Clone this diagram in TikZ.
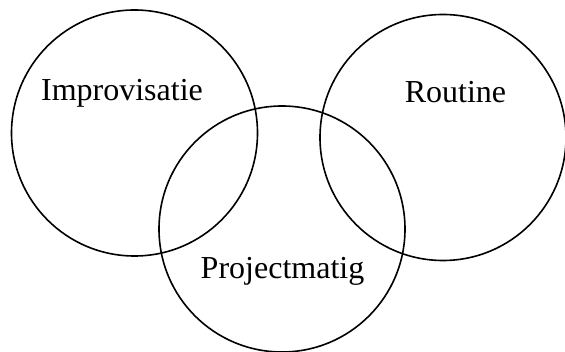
\documentclass[tikz,border=0pt]{standalone}
\usepackage{fontspec}
\setmainfont{Liberation Serif}
\begin{document}
\begin{tikzpicture}[x=1pt,y=-1pt,
  ring/.style={draw=black,line width=1.6pt,circle,minimum size=246pt,inner sep=0pt},
  label/.style={anchor=base,font=\fontsize{32}{36}\selectfont,inner sep=0pt}]
  \useasboundingbox (0,0) rectangle (565,352);
  % three overlapping working styles
  \node[ring] (impro) at (134.5,133) {};
  \node[ring] (rout)  at (443,137.5) {};
  \node[ring] (proj)  at (282,229) {};
  % labels
  \node[label] (timpro) at (122,101) {Improvisatie};
  \node[label] (trout)  at (455.5,103) {Routine};
  \node[label] (tproj)  at (282.5,279) {Projectmatig};
\end{tikzpicture}
\end{document}
